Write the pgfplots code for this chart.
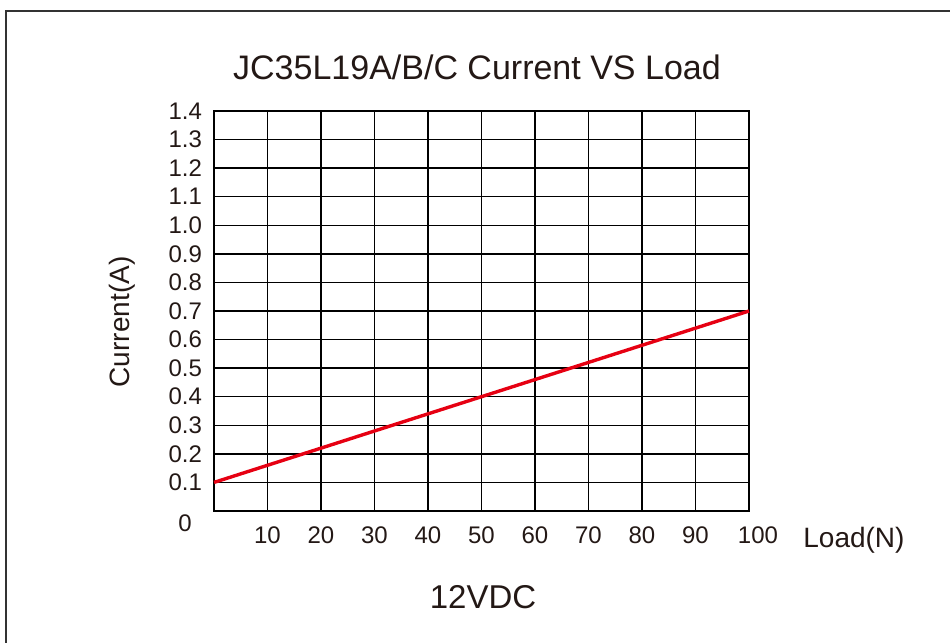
\documentclass[border=0pt]{standalone}
\usepackage{pgfplots}
\pgfplotsset{compat=1.18}
\usepackage{fontspec}
\setmainfont{Liberation Sans}
\definecolor{txt}{RGB}{35,24,21}
\definecolor{redl}{RGB}{230,0,18}
\begin{document}
\begin{tikzpicture}
\path[use as bounding box] (0pt,0pt) rectangle (475pt,321.5pt);
\draw[line width=0.9pt,black!80] (3pt,-10pt) -- (3pt,316pt) -- (485pt,316pt);
\begin{axis}[
  at={(107pt,66pt)}, anchor=south west,
  scale only axis, width=267.5pt, height=200pt,
  xmin=0, xmax=100, ymin=0, ymax=1.4,
  xtick={10,20,30,40,50,60,70,80,90,100},
  xticklabels={10,20,30,40,50,60,70,80,90,\hspace{9pt}100},
  ytick={0.1,0.2,0.3,0.4,0.5,0.6,0.7,0.8,0.9,1.0,1.1,1.2,1.3,1.4},
  yticklabels={0.1,0.2,0.3,0.4,0.5,0.6,0.7,0.8,0.9,1.0,1.1,1.2,1.3,1.4},
  major tick length=0pt,
  grid=major,
  grid style={black, line width=0.65pt},
  axis line style={black, line width=0.65pt},
  tick label style={font=\fontsize{12}{14}\selectfont, text=txt},
  xticklabel style={yshift=-4.5pt},
  yticklabel style={xshift=-2.5pt},
  clip=false,
]
\addplot[redl, line width=1.7pt] coordinates {(0,0.1) (100,0.7)};
\end{axis}
\node[anchor=base, text=txt, font=\fontsize{17}{19}\selectfont] at (238.5pt,281.5pt) {JC35L19A/B/C Current VS Load};
\node[anchor=base, text=txt, font=\fontsize{16.5}{18}\selectfont] at (241.5pt,17pt) {12VDC};
\node[anchor=base west, inner sep=0pt, text=txt, font=\fontsize{14}{16}\selectfont] at (401.5pt,47.5pt) {Load(N)};
\node[anchor=base, inner sep=0pt, text=txt, font=\fontsize{12}{14}\selectfont] at (92.5pt,55.5pt) {0};
\node[rotate=90, text=txt, font=\fontsize{14}{16}\selectfont] at (61pt,160.5pt) {Current(A)};
\end{tikzpicture}
\end{document}
